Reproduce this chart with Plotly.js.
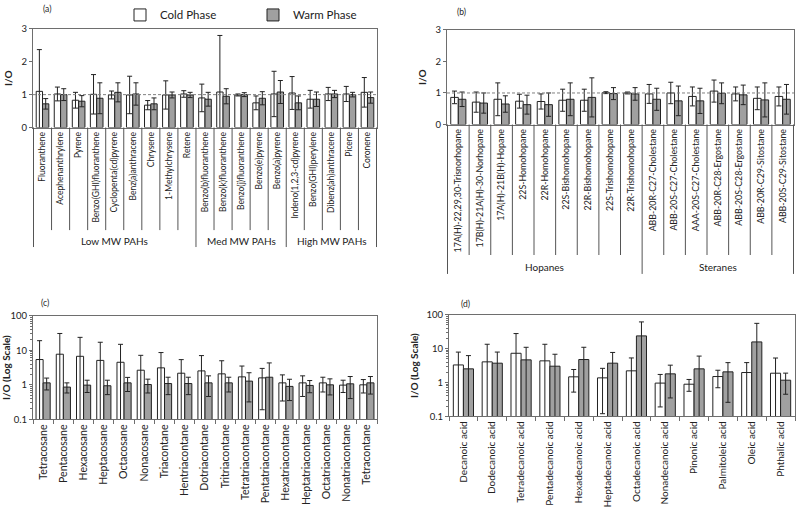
<!DOCTYPE html>
<html>
<head>
<meta charset="utf-8">
<script src="https://cdn.plot.ly/plotly-3.0.1.min.js"></script>
<style>html,body{margin:0;padding:0;background:#fff}#chart{width:800px;height:510px}</style>
</head>
<body>
<div id="chart"></div>
<script>
// ---------- Panel (a): PAHs ----------
const catsA = ['Fluoranthene','Acephenanthrylene','Pyrene','Benzo(GHI)fluoranthene','Cyclopenta(cd)pyrene','Benz(a)anthracene','Chrysene','1-Methylchrysene','Retene','Benzo(b)fluoranthene','Benzo(k)fluoranthene','Benzo(j)fluoranthene','Benzo(e)pyrene','Benzo(a)pyrene','Indeno(1,2,3-cd)pyrene','Benzo(GHI)perylene','Dibenz(ah)anthracene','Picene','Coronene'];
const coldA    = [1.10,1.02,0.83,1.01,0.99,0.99,0.68,0.99,1.02,0.90,1.08,0.99,0.75,1.02,1.05,0.86,1.02,1.02,1.07];
const coldErrA = [1.27,0.21,0.24,0.60,0.12,0.57,0.14,0.43,0.10,0.42,1.72,0.03,0.21,0.69,0.50,0.27,0.20,0.23,0.45];
const warmA    = [0.72,1.00,0.80,0.89,1.07,1.02,0.72,0.99,0.99,0.86,0.95,1.00,0.89,1.08,0.75,0.86,1.02,1.00,0.91];
const warmErrA = [0.16,0.18,0.17,0.47,0.29,0.34,0.18,0.09,0.08,0.21,0.23,0.06,0.20,0.35,0.21,0.22,0.11,0.07,0.17];
const groupsA  = ['Low MW PAHs','Med MW PAHs','High MW PAHs'];
const groupSizesA = [9,5,5];

// ---------- Panel (b): Hopanes & Steranes ----------
const catsB = ['17A(H)-22,29,30-Trisnorhopane','17B(H)-21A(H)-30-Norhopane','17A(H)-21B(H)-Hopane','22S-Homohopane','22R-Homohopane','22S-Bishomohopane','22R-Bishomohopane','22S-Trishomohopane','22R-Trishomohopane','ABB-20R-C27-Cholestane','ABB-20S-C27-Cholestane','AAA-20S-C27-Cholestane','ABB-20R-C28-Ergostane','ABB-20S-C28-Ergostane','ABB-20R-C29-Sitostane','ABB-20S-C29-Sitostane'];
const coldB    = [0.86,0.71,0.80,0.74,0.73,0.77,0.77,1.01,1.00,0.97,1.00,0.89,1.06,0.97,0.83,0.89];
const coldErrB = [0.20,0.32,0.52,0.22,0.24,0.35,0.35,0.03,0.03,0.30,0.34,0.30,0.35,0.22,0.36,0.30];
const warmB    = [0.80,0.68,0.65,0.63,0.63,0.80,0.86,0.98,0.97,0.80,0.75,0.75,0.99,0.94,0.78,0.80];
const warmErrB = [0.23,0.32,0.26,0.30,0.37,0.52,0.62,0.19,0.20,0.35,0.47,0.40,0.33,0.31,0.54,0.47];
const groupsB  = ['Hopanes','Steranes'];
const groupSizesB = [9,7];

// ---------- Panel (c): n-Alkanes ----------
const catsC = ['Tetracosane','Pentacosane','Hexacosane','Heptacosane','Octacosane','Nonacosane','Triacontane','Hentriacontane','Dotriacontane','Tritriacontane','Tetratriacontane','Pentatriacontane','Hexatriacontane','Heptatriacontane','Octatriacontane','Nonatriacontane','Tetracontane'];
const coldC    = [5.4,7.7,6.7,5.1,4.5,2.65,3.1,2.17,2.53,2.08,1.70,1.59,1.14,1.14,1.14,0.98,1.00];
const coldErrC = [13.6,23,17,12,10.4,4.5,5.5,3.2,4.5,2.9,1.8,1.40,0.80,0.68,0.52,0.38,0.42];
const warmC    = [1.14,0.86,0.98,0.94,1.14,1.02,1.09,1.09,1.14,1.14,1.28,1.66,0.90,0.96,1.00,1.07,1.14];
const warmErrC = [0.43,0.28,0.38,0.42,0.50,0.44,0.57,0.57,0.68,0.52,0.96,2.65,0.55,0.37,0.49,0.67,0.60];

// ---------- Panel (d): Organic acids ----------
const catsD = ['Decanoic acid','Dodecanoic acid','Tetradecanoic acid','Pentadecanoic acid','Hexadecanoic acid','Heptadecanoic acid','Octadecanoic acid','Nonadecanoic acid','Pinonic acid','Palmitoleic acid','Oleic acid','Phthalic acid'];
const coldD    = [3.3,4.07,7.3,4.36,1.47,1.37,2.21,0.96,0.89,1.50,1.97,1.88];
const coldErrD = [4.6,9.4,20.6,9.1,0.95,1.25,3.1,0.77,0.34,0.80,1.9,3.4];
const warmD    = [2.53,3.72,4.66,3.03,4.77,3.72,23.8,1.80,2.53,2.06,15.8,1.17];
const warmErrD = [3.7,4.2,6.3,3.8,6.2,4.0,37.7,1.45,3.5,1.8,40,0.72];

// ---------- helpers ----------
const W = 800, H = 510;
const px = v => v / W;          // horizontal pixel -> paper
const py = v => 1 - v / H;      // vertical pixel -> paper
const FONT = 'Lato, "Open Sans", sans-serif';
const INK = '#222';
const AX = '#6e6e6e';
const WARM = '#a0a0a0';

function barPair(cats, cold, coldErr, warm, warmErr, xa, ya, legend) {
  const eb = arr => ({type: 'data', array: arr, visible: true, color: INK, thickness: 1, width: 2.5});
  return [
    {type: 'bar', name: 'Cold Phase', x: cats, y: cold, xaxis: xa, yaxis: ya,
     marker: {color: '#ffffff', line: {color: INK, width: 1}}, error_y: eb(coldErr),
     legendgroup: 'cold', showlegend: legend, hoverinfo: 'x+y'},
    {type: 'bar', name: 'Warm Phase', x: cats, y: warm, xaxis: xa, yaxis: ya,
     marker: {color: WARM, line: {color: INK, width: 1}}, error_y: eb(warmErr),
     legendgroup: 'warm', showlegend: legend, hoverinfo: 'x+y'}
  ];
}

const data = [].concat(
  barPair(catsA, coldA, coldErrA, warmA, warmErrA, 'x', 'y', true),
  barPair(catsB, coldB, coldErrB, warmB, warmErrB, 'x2', 'y2', false),
  barPair(catsC, coldC, coldErrC, warmC, warmErrC, 'x3', 'y3', false),
  barPair(catsD, coldD, coldErrD, warmD, warmErrD, 'x4', 'y4', false)
);

function xAxis(d0, d1, anchor, size, ticks) {
  return {domain: [px(d0), px(d1)], anchor: anchor, type: 'category',
    showline: true, mirror: true, linecolor: AX, linewidth: 1,
    ticks: ticks ? 'outside' : '', tickson: 'boundaries', ticklen: ticks ? 4 : 0, tickcolor: AX,
    tickangle: -90, tickfont: {family: FONT, size: size, color: INK},
    showgrid: false, zeroline: false, fixedrange: true};
}
function yAxisLin(t0, t1, anchor) {
  return {domain: [py(t1), py(t0)], anchor: anchor, range: [0, 3], dtick: 1,
    showline: true, mirror: true, linecolor: AX, linewidth: 1,
    ticks: 'outside', ticklen: 3, tickcolor: AX,
    tickfont: {family: FONT, size: 9.5, color: INK},
    title: {text: '<b>I/O</b>', font: {family: FONT, size: 10, color: INK}, standoff: 7},
    showgrid: false, zeroline: false, fixedrange: true};
}
function yAxisLog(t0, t1, anchor) {
  return {domain: [py(t1), py(t0)], anchor: anchor, type: 'log', range: [-1, 2],
    tickvals: [0.1, 1, 10, 100], ticktext: ['0.1', '1', '10', '100'],
    showline: true, mirror: true, linecolor: AX, linewidth: 1,
    ticks: 'outside', ticklen: 3, tickcolor: AX,
    minor: {ticks: 'outside', ticklen: 2, tickcolor: AX, dtick: 'D1', showgrid: false},
    tickfont: {family: FONT, size: 9.5, color: INK},
    title: {text: '<b>I/O (Log Scale)</b>', font: {family: FONT, size: 10, color: INK}, standoff: 6},
    showgrid: false, zeroline: false, fixedrange: true};
}

const shapes = [];
const annotations = [];

// reference line at I/O = 1
[['x', 'y', 1, '#808080'], ['x2', 'y2', 1, '#808080'], ['x3', 'y3', 0, '#111'], ['x4', 'y4', 0, '#111']].forEach(([xa, ya, yv, col]) => {
  shapes.push({type: 'line', xref: xa + ' domain', x0: 0, x1: 1, yref: ya, y0: yv, y1: yv,
    line: {color: col, width: 1, dash: '3px,2px'}, layer: 'above'});
});

// category separators and group labels for the two-level axes
function twoLevel(xa, n, groups, sizes, axisY, catEnd, grpEnd, labelY) {
  const bounds = [0];
  sizes.forEach(s => bounds.push(bounds[bounds.length - 1] + s));
  for (let k = 0; k <= n; k++) {
    const isGroup = bounds.indexOf(k) >= 0;
    shapes.push({type: 'line', xref: xa, x0: k - 0.5, x1: k - 0.5, yref: 'paper',
      y0: py(axisY), y1: py(isGroup ? grpEnd : catEnd), line: {color: '#555', width: 1}});
  }
  groups.forEach((g, i) => {
    annotations.push({xref: xa, x: bounds[i] + (sizes[i] - 1) / 2, yref: 'paper', y: py(labelY),
      text: g, showarrow: false, xanchor: 'center', yanchor: 'middle',
      font: {family: FONT, size: 10, color: INK}});
  });
}
twoLevel('x', catsA.length, groupsA, groupSizesA, 126, 229, 246, 240);
twoLevel('x2', catsB.length, groupsB, groupSizesB, 123, 254, 273, 266);

// panel letters
[['(a)', 47, 7], ['(b)', 461, 10], ['(c)', 45, 302], ['(d)', 465, 303]].forEach(([t, x, y]) => {
  annotations.push({xref: 'paper', yref: 'paper', x: px(x), y: py(y), text: t, showarrow: false,
    xanchor: 'center', yanchor: 'middle', font: {family: FONT, size: 8.5, color: INK}});
});

const layout = {
  width: W, height: H,
  margin: {l: 0, r: 0, t: 0, b: 0},
  paper_bgcolor: '#fff', plot_bgcolor: '#fff',
  font: {family: FONT, color: INK},
  barmode: 'group', bargap: 0.3, bargroupgap: 0,
  showlegend: true,
  legend: {orientation: 'h', x: px(120), xanchor: 'left', y: py(13), yanchor: 'middle',
    font: {family: FONT, size: 11.5, color: INK}, bgcolor: 'rgba(0,0,0,0)', itemwidth: 30,
    entrywidth: 88, entrywidthmode: 'pixels', tracegroupgap: 0},
  xaxis: xAxis(33, 377, 'y', 8.5, false),
  yaxis: yAxisLin(27, 126, 'x'),
  xaxis2: xAxis(447, 794, 'y2', 8.8, false),
  yaxis2: yAxisLin(28, 123, 'x2'),
  xaxis3: xAxis(33, 377, 'y3', 10.5, true),
  yaxis3: yAxisLog(315, 419, 'x3'),
  xaxis4: xAxis(449, 795, 'y4', 10, true),
  yaxis4: yAxisLog(314, 416, 'x4'),
  shapes: shapes,
  annotations: annotations
};

Plotly.newPlot('chart', data, layout, {displayModeBar: false, staticPlot: true});
</script>
</body>
</html>
